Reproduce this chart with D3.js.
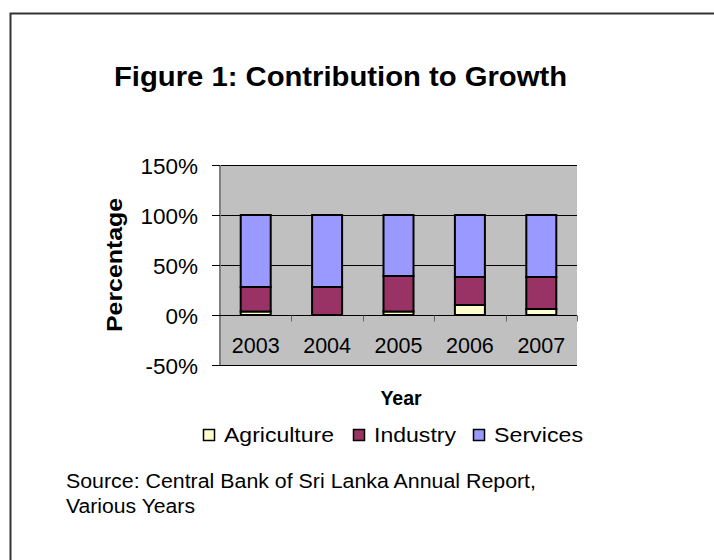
<!DOCTYPE html>
<html>
<head>
<meta charset="utf-8">
<script src="https://cdn.jsdelivr.net/npm/d3@7"></script>
<style>
  html, body { margin: 0; padding: 0; background: #fff; }
  svg { display: block; }
  text { font-family: "Liberation Sans", Arial, sans-serif; fill: #000; }
</style>
</head>
<body>
<svg id="chart" width="714" height="560"></svg>
<script>
// Contribution to GDP growth by sector (share of total, %)
const years = ["2003", "2004", "2005", "2006", "2007"];
const agriculture = [3.5, 0, 3.5, 10, 6];
const industry = [24.5, 28, 35.5, 28, 32];
const services = [72, 72, 61, 62, 62];
const seriesNames = ["Agriculture", "Industry", "Services"];
const seriesColors = ["#FFFFCC", "#993366", "#9999FF"];
const yTicks = [-50, 0, 50, 100, 150];

const svg = d3.select("#chart");

// Outer frame (top and left edges visible)
svg.append("path")
  .attr("d", "M10.5,560 V13.5 H714")
  .attr("fill", "none").attr("stroke", "#333").attr("stroke-width", 2);

const plot = { left: 220, right: 577, top: 165, bottom: 365 };

const x = d3.scaleBand().domain(years).range([plot.left, plot.right]).paddingInner(0).paddingOuter(0);
const y = d3.scaleLinear().domain([-50, 150]).range([plot.bottom, plot.top]);

// Title
svg.append("text")
  .attr("x", 114).attr("y", 86)
  .attr("font-size", 27).attr("font-weight", "bold")
  .attr("textLength", 453).attr("lengthAdjust", "spacingAndGlyphs")
  .text("Figure 1: Contribution to Growth");

// Plot background
svg.append("rect")
  .attr("x", plot.left).attr("y", plot.top)
  .attr("width", plot.right - plot.left).attr("height", plot.bottom - plot.top)
  .attr("fill", "#C0C0C0");

// Gridlines
svg.append("g").selectAll("line")
  .data(yTicks)
  .join("line")
  .attr("x1", plot.left).attr("x2", plot.right)
  .attr("y1", d => Math.round(y(d)) + 0.5).attr("y2", d => Math.round(y(d)) + 0.5)
  .attr("stroke", "#000").attr("stroke-width", 1);

// Value axis
const yAxis = svg.append("g")
  .attr("transform", `translate(${plot.left},0)`)
  .call(d3.axisLeft(y).tickValues(yTicks).tickSize(8).tickPadding(14).tickFormat(d => d + "%"));
yAxis.select(".domain").attr("stroke", "#808080").attr("stroke-width", 2)
  .attr("d", `M0,${plot.top}V${plot.bottom}`);
yAxis.selectAll(".tick line").attr("stroke", "#000");
yAxis.selectAll(".tick text")
  .attr("font-size", 22.5).attr("font-family", "Liberation Sans, Arial, sans-serif")
  .attr("fill", "#000").attr("dy", "0.36em");

// Stacked bars
const rows = years.map((yr, i) => ({
  year: yr,
  Agriculture: agriculture[i],
  Industry: industry[i],
  Services: services[i]
}));
const stack = d3.stack().keys(seriesNames).offset(d3.stackOffsetDiverging);
const layers = stack(rows);
const barW = 30;

svg.append("g").selectAll("g")
  .data(layers)
  .join("g")
  .attr("fill", (d, i) => seriesColors[i])
  .selectAll("rect")
  .data(d => d)
  .join("rect")
  .attr("x", d => x(d.data.year) + x.bandwidth() / 2 - barW / 2)
  .attr("width", barW)
  .attr("y", d => y(Math.max(d[0], d[1])))
  .attr("height", d => Math.abs(y(d[0]) - y(d[1])))
  .attr("stroke", "#000").attr("stroke-width", 2);

// Category axis at 0%
const xAxis = svg.append("g")
  .attr("transform", `translate(0,${Math.round(y(0)) + 0.5})`);
xAxis.append("line")
  .attr("x1", plot.left - 8).attr("x2", plot.right)
  .attr("stroke", "#000");
const boundaries = years.map(d => x(d)).concat([plot.right]);
xAxis.selectAll(".bt")
  .data(boundaries.slice(1))
  .join("line")
  .attr("class", "bt")
  .attr("x1", d => Math.round(d) + 0.5).attr("x2", d => Math.round(d) + 0.5)
  .attr("y1", 0).attr("y2", 6)
  .attr("stroke", "#666");

svg.append("g").selectAll("text")
  .data(years)
  .join("text")
  .attr("x", d => x(d) + x.bandwidth() / 2)
  .attr("y", 353)
  .attr("text-anchor", "middle")
  .attr("font-size", 21.5)
  .text(d => d);

// Axis titles
svg.append("text")
  .attr("transform", "translate(122,265) rotate(-90)")
  .attr("text-anchor", "middle")
  .attr("font-size", 22).attr("font-weight", "bold")
  .attr("textLength", 134).attr("lengthAdjust", "spacingAndGlyphs")
  .text("Percentage");

svg.append("text")
  .attr("x", 401).attr("y", 405)
  .attr("text-anchor", "middle")
  .attr("font-size", 19.5).attr("font-weight", "bold")
  .text("Year");

// Legend
const legendItems = [
  { name: "Agriculture", box: 203, text: 224, len: 110 },
  { name: "Industry", box: 353, text: 374, len: 82 },
  { name: "Services", box: 473, text: 494, len: 89 }
];
const lg = svg.append("g");
legendItems.forEach((it, i) => {
  lg.append("rect")
    .attr("x", it.box + 0.5).attr("y", 429.5)
    .attr("width", 11).attr("height", 11)
    .attr("fill", seriesColors[i]).attr("stroke", "#000").attr("stroke-width", 1.5);
  lg.append("text")
    .attr("x", it.text).attr("y", 442)
    .attr("font-size", 20.5)
    .attr("textLength", it.len).attr("lengthAdjust", "spacingAndGlyphs")
    .text(it.name);
});

// Source note
svg.append("text")
  .attr("x", 66).attr("y", 488)
  .attr("font-size", 20)
  .attr("textLength", 470).attr("lengthAdjust", "spacingAndGlyphs")
  .text("Source: Central Bank of Sri Lanka Annual Report,");
svg.append("text")
  .attr("x", 66).attr("y", 513)
  .attr("font-size", 20)
  .attr("textLength", 129).attr("lengthAdjust", "spacingAndGlyphs")
  .text("Various Years");
</script>
</body>
</html>
